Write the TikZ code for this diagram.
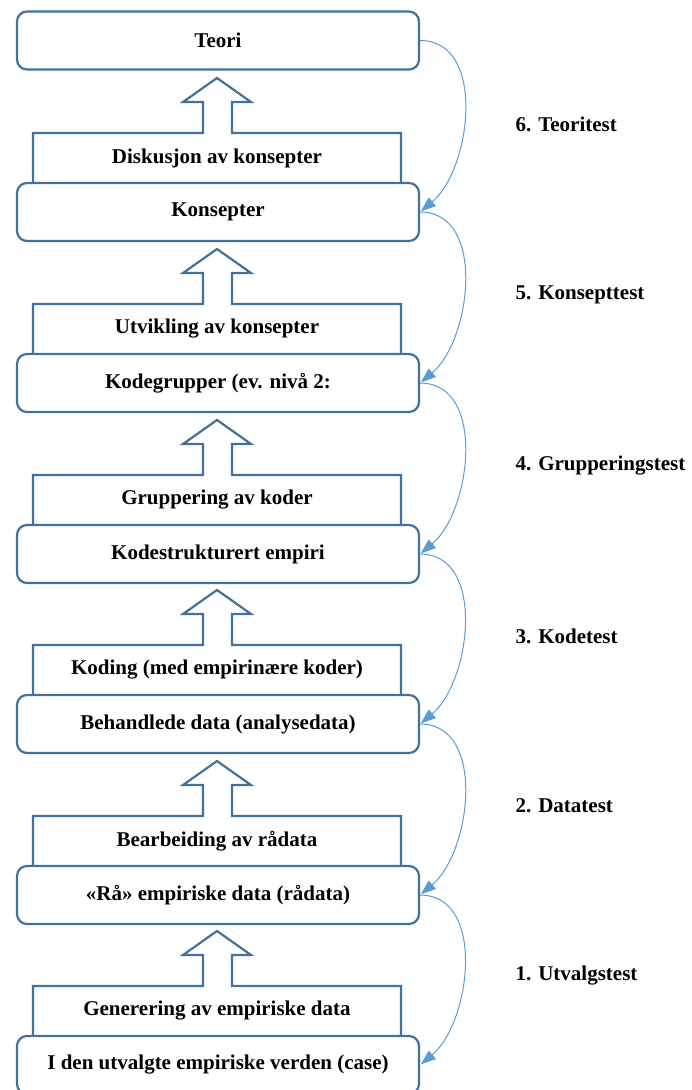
\documentclass[tikz,border=0pt]{standalone}
\usepackage{fontspec}
\setmainfont{Liberation Serif}
\usetikzlibrary{arrows.meta,positioning}
\definecolor{boxblue}{RGB}{65,113,156}
\definecolor{linkblue}{RGB}{91,155,213}

\begin{document}
\begin{tikzpicture}[x=1pt,y=-1pt,
  level/.style={draw=boxblue, line width=2.2pt, rounded corners=10pt, fill=white,
    minimum width=402pt, minimum height=58pt, font=\fontsize{21}{25}\bfseries\selectfont},
  procline/.style={draw=boxblue, line width=2.2pt, fill=white},
  proctext/.style={font=\fontsize{21}{25}\bfseries\selectfont},
  testlabel/.style={anchor=west, font=\fontsize{21}{25}\bfseries\selectfont},
  link/.style={draw=linkblue, line width=1pt, -{Triangle[length=15pt,width=11pt]}, shorten >=1pt}]
\useasboundingbox (0,0) rectangle (691,1090);

% process arrows between the levels
\foreach \t/\nm/\txt in {182/diskusjon/Diskusjon av konsepter, 353/utvikling/Utvikling av konsepter,
    524/gruppering/Gruppering av koder, 694/koding/Koding (med empirinære koder),
    865/bearbeiding/Bearbeiding av rådata, 1035/generering/Generering av empiriske data}{
  \draw[procline] (33,\t) -- (33,\t-49) -- (203,\t-49) -- (203,\t-80) -- (183,\t-80) -- (217,\t-104)
    -- (251,\t-80) -- (232,\t-80) -- (232,\t-49) -- (401,\t-49) -- (401,\t);
  \node[proctext] (\nm) at (217,\t-24) {\txt};
}

% levels
\node[level] (teori) at (218,40.5) {Teori};
\node[level] (konsepter) at (218,212) {Konsepter};
\node[level] (kodegrupper) at (218,383) {Kodegrupper (ev. nivå 2:};
\node[level] (kodestrukt) at (218,554) {Kodestrukturert empiri};
\node[level] (behandlede) at (218,724) {Behandlede data (analysedata)};
\node[level] (raadata) at (218,895) {«Rå» empiriske data (rådata)};
\node[level] (verden) at (218,1065) {I den utvalgte empiriske verden (case)};

% tests
\draw[link] (teori.east) to[out=0,in=40] (konsepter.east);
\draw[link] (konsepter.east) to[out=0,in=40] (kodegrupper.east);
\draw[link] (kodegrupper.east) to[out=0,in=40] (kodestrukt.east);
\draw[link] (kodestrukt.east) to[out=0,in=40] (behandlede.east);
\draw[link] (behandlede.east) to[out=0,in=40] (raadata.east);
\draw[link] (raadata.east) to[out=0,in=40] (verden.east);

\node[testlabel] (teoritest) at (512,124) {6. Teoritest};
\node[testlabel] (konsepttest) at (512,295) {5. Konsepttest};
\node[testlabel] (grupptest) at (512,466) {4. Grupperingstest};
\node[testlabel] (kodetest) at (512,636) {3. Kodetest};
\node[testlabel] (datatest) at (512,806) {2. Datatest};
\node[testlabel] (utvalgstest) at (512,976) {1. Utvalgstest};
\end{tikzpicture}
\end{document}
